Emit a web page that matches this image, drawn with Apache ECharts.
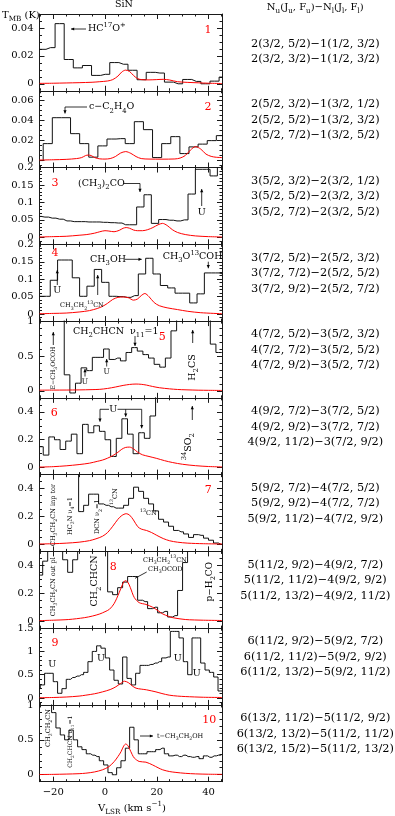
<!DOCTYPE html>
<html>
<head>
<meta charset="utf-8">
<script src="https://cdn.jsdelivr.net/npm/echarts@6.0.0/dist/echarts.min.js"></script>
<style>
html,body{margin:0;padding:0;background:#ffffff;}
#chart{width:395px;height:816px;}
</style>
</head>
<body>
<div id="chart"></div>
<script>
// ---------------- data ----------------
const velocityRange = [-25.3, 45.2];
const xTickLabels = [-20, 0, 20, 40];
const xMinorTicks = [-25, -20, -15, -10, -5, 0, 5, 10, 15, 20, 25, 30, 35, 40, 45];

// panel 1
const vObs1 = [-28.08, -24.56, -21.04, -17.52, -14.0, -10.48, -6.96, -3.44, 0.08, 3.6, 7.12, 10.64, 14.16, 17.68, 21.2, 24.72, 28.24, 31.76, 35.28, 38.8, 42.32, 45.84];
const tObs1 = [0.0247, 0.0247, 0.0259, 0.0431, 0.0174, 0.0114, 0.0131, 0.006, 0.0068, 0.0152, 0.014, 0.0097, 0.0029, 0.0082, 0.0077, 0.0012, 0.0, 0.0031, 0.0017, 0.0, 0.0019, 0.0048];
const vMod1 = [-25.3, -20, -15, -10, -5, -2, 1, 3, 5, 6.5, 8, 9.5, 11, 12.5, 14, 17, 20, 22.5, 25, 28, 32, 36, 40, 45.2];
const tMod1 = [0.0003, 0.0004, 0.0006, 0.0008, 0.0011, 0.0015, 0.002, 0.003, 0.0055, 0.0085, 0.0098, 0.0088, 0.006, 0.0038, 0.003, 0.0028, 0.003, 0.0032, 0.0027, 0.0015, 0.001, 0.0007, 0.0004, 0.0002];
// panel 2
const vObs2 = [-25.63, -22.11, -18.59, -15.07, -11.55, -8.03, -4.51, -0.99, 2.53, 6.05, 9.57, 13.09, 16.61, 20.13, 23.65, 27.17, 30.69, 34.21, 37.73, 41.25, 44.77, 48.29];
const tObs2 = [0.0, 0.017, 0.043, 0.043, 0.027, 0.017, 0.0034, 0.0147, 0.0216, 0.022, 0.017, 0.039, 0.031, 0.003, 0.017, 0.024, 0.007, 0.0137, 0.0165, 0.02, 0.025, 0.025];
const vMod2 = [-25.3, -20, -15, -11, -9, -7.5, -6.5, -5.3, -4, -2, 0, 2, 4, 6, 8, 10, 12, 14, 17, 22, 27, 29, 31, 33, 35, 37, 39, 41, 43, 45.2];
const tMod2 = [0.0005, 0.0008, 0.0012, 0.002, 0.003, 0.005, 0.0055, 0.005, 0.003, 0.0017, 0.0015, 0.002, 0.004, 0.0075, 0.009, 0.0072, 0.004, 0.002, 0.0015, 0.0014, 0.0016, 0.0025, 0.005, 0.0105, 0.014, 0.0115, 0.0065, 0.0042, 0.0033, 0.003];
// panel 3
const vObs3 = [-26.04, -23.21, -20.37, -17.54, -14.70, -11.87, -9.04, -6.20, -3.36, -0.53, 2.31, 5.14, 7.98, 10.81, 13.65, 16.48, 19.32, 22.15, 24.99, 27.82, 30.66, 33.49, 36.33, 39.16, 42.0, 44.83, 47.67];
const tObs3 = [0.060, 0.058, 0.055, 0.052, 0.047, 0.045, 0.045, 0.044, 0.044, 0.043, 0.042, 0.041, 0.036, 0.036, 0.087, 0.122, 0.040, 0.051, 0.049, 0.047, 0.050, 0.124, 0.195, 0.195, 0.176, 0.21, 0.21];
const vMod3 = [-25.3, -20, -15, -10, -7, -4, -2, 0, 1.5, 3.5, 5.5, 7, 8.2, 9.5, 11, 12.5, 14.5, 16.5, 18.5, 20.5, 22.2, 24, 26, 28, 31, 35, 40, 45.2];
const tMod3 = [0.001, 0.002, 0.003, 0.006, 0.008, 0.012, 0.016, 0.019, 0.018, 0.016, 0.02, 0.026, 0.028, 0.026, 0.021, 0.019, 0.019, 0.022, 0.028, 0.036, 0.04, 0.034, 0.022, 0.014, 0.008, 0.004, 0.002, 0.001];
// panel 4
const vObs4 = [-25.40, -22.57, -19.73, -16.90, -14.06, -11.23, -8.39, -5.56, -2.72, 0.12, 2.95, 5.79, 8.62, 11.46, 14.29, 17.13, 19.96, 22.80, 25.63, 28.47, 31.30, 34.14, 36.97, 39.81, 42.64, 45.48];
const tObs4 = [0.051, 0.051, 0.097, 0.155, 0.155, 0.104, 0.051, 0.08, 0.128, 0.091, 0.051, 0.05, 0.048, 0.053, 0.115, 0.16, 0.115, 0.082, 0.075, 0.06, 0.06, 0.032, 0.058, 0.118, 0.118, 0.115];
const vMod4 = [-25.3, -20, -15, -10, -6, -3, -1, 1, 3, 5, 7, 9, 11, 12.5, 14, 15.4, 17, 19, 21, 24, 28, 32, 37, 45.2];
const tMod4 = [0.001, 0.002, 0.003, 0.006, 0.01, 0.016, 0.022, 0.031, 0.042, 0.048, 0.049, 0.047, 0.04, 0.043, 0.053, 0.059, 0.05, 0.033, 0.024, 0.018, 0.013, 0.008, 0.004, 0.001];
// panel 5 (values above 1 are off-scale channels)
const vObs5 = [-25.5, -23.34, -21.17, -19.0, -16.83, -14.66, -12.49, -10.32, -8.15, -5.98, -3.81, -1.64, 0.54, 2.71, 4.88, 7.05, 9.22, 11.39, 13.56, 15.73, 17.9, 20.07, 22.24, 24.41, 26.58, 28.75, 30.92, 33.09, 35.26, 37.43, 39.6, 41.77, 43.94, 46.11];
const tObs5 = [1.3, 1.3, 1.3, 1.3, 1.3, 0.23, -0.03, 0.11, 0.33, 0.29, 0.48, 0.48, 0.60, 0.45, 0.47, 0.43, 0.55, 0.62, 0.57, 0.52, 0.47, 0.38, 0.34, 0.47, 0.86, 1.3, 1.3, 1.3, 1.3, 1.3, 1.3, 0.67, 0.55, 0.55];
const vMod5 = [-25.3, -20, -15, -10, -5, -2, 1, 4, 7, 9.5, 12, 14, 16, 18.4, 21, 24.9, 28, 31.3, 36, 40, 45.2];
const tMod5 = [0.01, 0.011, 0.012, 0.014, 0.018, 0.022, 0.035, 0.055, 0.078, 0.092, 0.098, 0.094, 0.083, 0.063, 0.045, 0.029, 0.02, 0.015, 0.01, 0.008, 0.006];
// panel 6
const vObs6 = [-27.11, -24.94, -22.77, -20.60, -18.43, -16.26, -14.09, -11.92, -9.75, -7.58, -5.41, -3.24, -1.07, 1.10, 3.27, 5.44, 7.61, 9.78, 11.95, 14.12, 16.29, 18.46, 20.63, 47.0];
const tObs6 = [0.15, 0.15, 0.09, 0.22, 0.20, 0.13, 0.19, 0.24, 0.10, 0.31, 0.25, 0.30, 0.26, 0.20, 0.08, 0.21, 0.35, 0.24, 0.10, 0.25, 0.21, 0.37, 0.6, 0.6];
const vMod6 = [-25.3, -20, -15, -10, -6, -3, -1, 1, 3, 5, 6.5, 8, 9.5, 11, 12.5, 14.5, 17, 20, 23, 26, 30, 35, 40, 45.2];
const tMod6 = [0.004, 0.007, 0.013, 0.022, 0.032, 0.045, 0.054, 0.068, 0.086, 0.11, 0.132, 0.145, 0.147, 0.135, 0.112, 0.092, 0.08, 0.066, 0.05, 0.037, 0.024, 0.014, 0.008, 0.005];
// panel 7
const vObs7 = [-26.6, -11.155, -9.225, -7.295, -5.365, -3.435, -1.505, 0.425, 2.355, 4.285, 6.215, 8.145, 10.075, 12.005, 13.935, 15.865, 17.795, 19.725, 21.655, 23.585, 25.515, 27.445, 29.375, 31.305, 33.235, 35.165, 37.095, 39.025, 40.955, 42.885, 44.815, 46.745];
const tObs7 = [0.6, 0.6, 0.235, 0.28, 0.36, 0.36, 0.29, 0.28, 0.27, 0.26, 0.26, 0.28, 0.33, 0.41, 0.38, 0.33, 0.29, 0.24, 0.18, 0.16, 0.13, 0.10, 0.09, 0.075, 0.05, 0.07, 0.065, 0.045, 0.03, 0.01, 0.0, 0.0];
const vMod7 = [-25.3, -20, -15, -10, -6, -3.5, -1, 1, 3, 5, 6.5, 8.2, 9.5, 11, 12.6, 14, 16, 18, 20, 22.5, 25, 28, 32, 38, 45.2];
const tMod7 = [0.003, 0.005, 0.009, 0.016, 0.027, 0.04, 0.058, 0.085, 0.13, 0.18, 0.207, 0.22, 0.21, 0.175, 0.128, 0.11, 0.1, 0.085, 0.065, 0.042, 0.026, 0.016, 0.009, 0.005, 0.003];
// panel 8
const vObs8 = [-26.965, -25.035, -23.105, -21.175, -19.245, -17.315, -15.385, -13.455, -11.525, -9.595, -7.665, -5.735, -3.805, -1.875, 0.055, 1.985, 3.915, 5.845, 7.775, 9.705, 11.635, 13.565, 15.495, 17.425, 19.355, 21.285, 23.215, 25.145, 27.075, 29.005, 30.935, 32.865, 46.375];
const tObs8 = [0.33, 0.33, 0.43, 0.6, 0.6, 0.6, 0.44, 0.35, 0.44, 0.6, 0.6, 0.6, 0.6, 0.6, 0.6, 0.21, 0.19, 0.24, 0.28, 0.32, 0.32, 0.15, 0.14, 0.09, 0.10, 0.06, 0.07, 0.03, 0.04, 0.22, 0.42, 0.6, 0.6];
const vMod8 = [-25.3, -20, -14, -8, -4.8, -2, 0, 1.7, 3.5, 5.5, 6.8, 7.8, 8.8, 9.8, 11.3, 13.2, 15.8, 18.4, 20.5, 22.3, 24.5, 26.2, 31, 38, 45.2];
const tMod8 = [0.004, 0.007, 0.012, 0.025, 0.037, 0.052, 0.068, 0.085, 0.125, 0.205, 0.265, 0.29, 0.28, 0.24, 0.17, 0.133, 0.12, 0.1, 0.075, 0.052, 0.035, 0.025, 0.012, 0.007, 0.005];
// panel 9
const vObs9 = [-25.85, -24.175, -22.5, -20.825, -19.15, -17.475, -15.8, -14.125, -12.45, -10.775, -9.1, -7.425, -5.75, -4.075, -2.4, -0.725, 0.95, 2.625, 4.3, 5.975, 7.65, 9.325, 11.0, 12.675, 14.35, 16.025, 17.7, 19.375, 21.05, 22.725, 24.4, 26.075, 27.75, 29.425, 31.1, 32.775, 34.45, 36.125, 37.8, 39.475, 41.15, 42.825, 44.5, 46.175];
const tObs9 = [0.2, 0.28, 0.53, 0.53, 0.35, 0.1, 0.2, 0.4, 0.44, 0.47, 0.5, 0.55, 0.78, 1.0, 1.12, 1.07, 0.86, 0.6, 0.38, 0.3, 0.88, 0.42, 0.28, 0.53, 0.7, 0.7, 0.72, 0.75, 0.78, 0.86, 0.88, 1.43, 1.43, 1.29, 0.78, 0.5, 1.29, 1.29, 0.75, 0.6, 0.55, 0.45, 0.15, 0.15];
const vMod9 = [-25.3, -20, -15, -10, -7.4, -4, -1, 2, 4.2, 6, 7.5, 9, 10.5, 12, 14, 16, 19.7, 22, 24.8, 28, 31, 38, 45.2];
const tMod9 = [0.005, 0.01, 0.02, 0.04, 0.06, 0.09, 0.13, 0.18, 0.24, 0.31, 0.36, 0.33, 0.26, 0.21, 0.19, 0.175, 0.13, 0.095, 0.06, 0.04, 0.03, 0.015, 0.01];
// panel 10
const vObs10 = [-26.5, -24.82, -23.14, -21.47, -19.79, -18.12, -16.44, -14.77, -13.09, -11.42, -9.74, -8.07, -6.39, -4.72, -3.04, -1.37, 0.31, 1.98, 3.66, 5.33, 7.01, 8.68, 10.36, 12.03, 13.71, 15.38, 17.06, 18.73, 20.41, 22.08, 23.76, 25.43, 27.11, 28.78, 30.46, 32.13, 33.81, 35.48, 37.16, 38.83, 40.51, 42.18, 43.86, 45.53];
const tObs10 = [1.3, 1.3, 1.3, 1.3, 0.89, 0.67, 0.57, 0.5, 0.64, 0.5, 0.4, 0.36, 0.3, 0.28, 0.26, 0.2, 0.14, 0.03, 0.0, 0.1, 0.2, 0.38, 0.68, 0.5, 0.3, 0.3, 0.33, 0.33, 0.36, 0.38, 0.3, 0.27, 0.28, 0.26, 0.28, 0.26, 0.25, 0.26, 0.23, 0.27, 0.25, 0.27, 0.28, 0.3];
const vMod10 = [-25.3, -20, -15, -10, -7.4, -4, -1, 1.5, 3.6, 5, 6.2, 7.2, 8, 8.8, 9.5, 10.5, 11.3, 13.2, 15.8, 18.4, 20.5, 22.3, 25, 27.4, 31, 35, 40, 45.2];
const tMod10 = [0.003, 0.005, 0.009, 0.015, 0.022, 0.04, 0.07, 0.115, 0.19, 0.26, 0.33, 0.41, 0.44, 0.42, 0.37, 0.29, 0.24, 0.19, 0.18, 0.14, 0.1, 0.07, 0.045, 0.033, 0.02, 0.012, 0.007, 0.005];

// y ranges and tick labels
const yRange1 = [-0.005, 0.05],  yTicks1 = [0, 0.02, 0.04],            yMinorStep1 = 0.005;
const yRange2 = [-0.007, 0.07],  yTicks2 = [0, 0.02, 0.04, 0.06],      yMinorStep2 = 0.005;
const yRange3 = [-0.02, 0.2],    yTicks3 = [0, 0.05, 0.1, 0.15, 0.2],  yMinorStep3 = 0.01;
const yRange4 = [-0.02, 0.2],    yTicks4 = [0, 0.05, 0.1, 0.15, 0.2],  yMinorStep4 = 0.01;
const yRange5 = [-0.1, 1],       yTicks5 = [0, 0.5, 1],                yMinorStep5 = 0.1;
const yRange6 = [-0.05, 0.5],    yTicks6 = [0, 0.2, 0.4],              yMinorStep6 = 0.05;
const yRange7 = [-0.05, 0.5],    yTicks7 = [0, 0.2, 0.4],              yMinorStep7 = 0.05;
const yRange8 = [-0.05, 0.5],    yTicks8 = [0, 0.2, 0.4],              yMinorStep8 = 0.05;
const yRange9 = [-0.15, 1.5],    yTicks9 = [0, 0.5, 1, 1.5],           yMinorStep9 = 0.1;
const yRange10 = [-0.1, 1],      yTicks10 = [0, 0.5, 1],               yMinorStep10 = 0.1;

// transition labels (right column)
const transitions = [
  ['2(3/2, 5/2)\u22121(1/2, 3/2)', '2(3/2, 3/2)\u22121(1/2, 3/2)'],
  ['2(5/2, 3/2)\u22121(3/2, 1/2)', '2(5/2, 5/2)\u22121(3/2, 3/2)', '2(5/2, 7/2)\u22121(3/2, 5/2)'],
  ['3(5/2, 3/2)\u22122(3/2, 1/2)', '3(5/2, 5/2)\u22122(3/2, 3/2)', '3(5/2, 7/2)\u22122(3/2, 5/2)'],
  ['3(7/2, 5/2)\u22122(5/2, 3/2)', '3(7/2, 7/2)\u22122(5/2, 5/2)', '3(7/2, 9/2)\u22122(5/2, 7/2)'],
  ['4(7/2, 5/2)\u22123(5/2, 3/2)', '4(7/2, 7/2)\u22123(5/2, 5/2)', '4(7/2, 9/2)\u22123(5/2, 7/2)'],
  ['4(9/2, 7/2)\u22123(7/2, 5/2)', '4(9/2, 9/2)\u22123(7/2, 7/2)', '4(9/2, 11/2)\u22123(7/2, 9/2)'],
  ['5(9/2, 7/2)\u22124(7/2, 5/2)', '5(9/2, 9/2)\u22124(7/2, 7/2)', '5(9/2, 11/2)\u22124(7/2, 9/2)'],
  ['5(11/2, 9/2)\u22124(9/2, 7/2)', '5(11/2, 11/2)\u22124(9/2, 9/2)', '5(11/2, 13/2)\u22124(9/2, 11/2)'],
  ['6(11/2, 9/2)\u22125(9/2, 7/2)', '6(11/2, 11/2)\u22125(9/2, 9/2)', '6(11/2, 13/2)\u22125(9/2, 11/2)'],
  ['6(13/2, 11/2)\u22125(11/2, 9/2)', '6(13/2, 13/2)\u22125(11/2, 11/2)', '6(13/2, 15/2)\u22125(11/2, 13/2)']
];

// ---------------- layout ----------------
const panels = [
  [vObs1, tObs1, vMod1, tMod1, yRange1, yTicks1, yMinorStep1],
  [vObs2, tObs2, vMod2, tMod2, yRange2, yTicks2, yMinorStep2],
  [vObs3, tObs3, vMod3, tMod3, yRange3, yTicks3, yMinorStep3],
  [vObs4, tObs4, vMod4, tMod4, yRange4, yTicks4, yMinorStep4],
  [vObs5, tObs5, vMod5, tMod5, yRange5, yTicks5, yMinorStep5],
  [vObs6, tObs6, vMod6, tMod6, yRange6, yTicks6, yMinorStep6],
  [vObs7, tObs7, vMod7, tMod7, yRange7, yTicks7, yMinorStep7],
  [vObs8, tObs8, vMod8, tMod8, yRange8, yTicks8, yMinorStep8],
  [vObs9, tObs9, vMod9, tMod9, yRange9, yTicks9, yMinorStep9],
  [vObs10, tObs10, vMod10, tMod10, yRange10, yTicks10, yMinorStep10]
];
const F = 'DejaVu Serif';
const TOP0 = 14, PH = 76.77, GL = 39.5, GW = 182.5;
const FRAME = '#1a1a1a';

function minorList(r, step) {
  const out = [];
  const k0 = Math.ceil(r[0] / step - 1e-9), k1 = Math.floor(r[1] / step + 1e-9);
  for (let k = k0; k <= k1; k++) out.push(+(k * step).toFixed(6));
  return out;
}
const fmtX = v => (v < 0 ? '\u2212' + Math.abs(v) : String(v));

const grid = [], xAxis = [], yAxis = [], series = [];
panels.forEach((p, i) => {
  const [vo, to, vm, tm, yr, yt, ys] = p;
  grid.push({left: GL, top: TOP0 + i * PH, width: GW, height: PH, containLabel: false, outerBoundsMode: 'none'});
  const tickStyle = {color: FRAME, width: 1};
  const lineOn = {show: true, onZero: false, lineStyle: {color: FRAME, width: 1}};
  const lineOff = {show: false, onZero: false};
  const xb = {gridIndex: i, type: 'value', min: velocityRange[0], max: velocityRange[1], splitLine: {show: false}, axisPointer: {show: false}};
  ['bottom', 'top'].forEach(pos => {
    xAxis.push(Object.assign({}, xb, {position: pos, axisLine: lineOn,
      axisTick: {show: true, inside: true, length: 2.5, customValues: xMinorTicks, lineStyle: tickStyle},
      axisLabel: {show: false}}));
    xAxis.push(Object.assign({}, xb, {position: pos, axisLine: lineOff,
      axisTick: {show: true, inside: true, length: 5, customValues: xTickLabels, lineStyle: tickStyle},
      axisLabel: (i === 9 && pos === 'bottom') ? {show: true, customValues: xTickLabels, margin: 6, fontFamily: F, fontSize: 10, color: '#000', formatter: fmtX} : {show: false}}));
  });
  const yb = {gridIndex: i, type: 'value', min: yr[0], max: yr[1], splitLine: {show: false}, axisPointer: {show: false}};
  const ymin = minorList(yr, ys);
  ['left', 'right'].forEach(pos => {
    yAxis.push(Object.assign({}, yb, {position: pos, axisLine: lineOn,
      axisTick: {show: true, inside: true, length: 2.5, customValues: ymin, lineStyle: tickStyle},
      axisLabel: {show: false}}));
    yAxis.push(Object.assign({}, yb, {position: pos, axisLine: lineOff,
      axisTick: {show: true, inside: true, length: 5, customValues: yt, lineStyle: tickStyle},
      axisLabel: pos === 'left' ? {show: true, customValues: yt, margin: 6, fontFamily: F, fontSize: 10, color: '#000'} : {show: false}}));
  });
  series.push({type: 'line', xAxisIndex: 4 * i + 1, yAxisIndex: 4 * i + 1, data: vo.map((v, k) => [v, to[k]]),
    step: 'middle', symbol: 'none', showSymbol: false, clip: true, silent: true, animation: false,
    lineStyle: {color: '#111', width: 1}, z: 2});
  series.push({type: 'line', xAxisIndex: 4 * i + 1, yAxisIndex: 4 * i + 1, data: vm.map((v, k) => [v, tm[k]]),
    smooth: 0.3, symbol: 'none', showSymbol: false, clip: true, silent: true, animation: false,
    lineStyle: {color: '#ff0000', width: 1}, z: 3});
});

// ---------------- annotations ----------------
function richFor(fs, color) {
  const s = +(fs * 0.72).toFixed(2);
  return {
    b: {fontFamily: F, fontSize: s, height: s * 0.75, verticalAlign: 'bottom', fill: color},
    p: {fontFamily: F, fontSize: s, height: s * 0.75, verticalAlign: 'top', fill: color}
  };
}
function T(x, y, text, o) {
  o = o || {};
  const fs = o.size || 9.5, color = o.color || '#000';
  return {type: 'text', x: x, y: y, rotation: (o.rot || 0) * Math.PI / 180, z: 100, silent: true,
    style: {text: text, fontFamily: F, fontSize: fs, fill: color, align: o.align || 'left',
      verticalAlign: 'middle', lineHeight: Math.round(fs * 1.35), rich: richFor(fs, color)}};
}
function L(pts) {
  return {type: 'polyline', z: 100, silent: true, shape: {points: pts}, style: {stroke: '#000', lineWidth: 0.8, fill: null}};
}
function A(pts) {
  const [x1, y1] = pts[pts.length - 2], [x2, y2] = pts[pts.length - 1];
  const dx = x2 - x1, dy = y2 - y1, len = Math.hypot(dx, dy), ux = dx / len, uy = dy / len;
  const hl = 3.2, hw = 1.6, bx = x2 - ux * hl, by = y2 - uy * hl;
  return [L(pts), {type: 'polygon', z: 100, silent: true,
    shape: {points: [[x2, y2], [bx - uy * hw, by + ux * hw], [bx + uy * hw, by - ux * hw]]}, style: {fill: '#000'}}];
}
const RED = '#ff0000';
const G = [];
const add = (...els) => els.forEach(e => Array.isArray(e) ? G.push(...e) : G.push(e));

// headers
add(T(124, 4.5, 'SiN', {align: 'center', size: 9.5}));
add(T(2, 15, 'T{b|MB} (K)', {size: 10}));
add(T(315.3, 7, 'N{b|u}(J{b|u}, F{b|u})\u2212N{b|l}(J{b|l}, F{b|l})', {align: 'center', size: 10}));
add(T(132, 808, 'V{b|LSR} (km s{p|\u22121})', {align: 'center', size: 10}));

// transitions column
transitions.forEach((lines, i) => {
  const c = TOP0 + (i + 0.5) * PH;
  const y0 = lines.length === 2 ? c - 8.5 : c - 9.5 - 15.5;
  lines.forEach((s, k) => add(T(315.3, y0 + k * 15.5, s, {align: 'center', size: 11.3})));
});

// panel numbers
const numPos = [[208, 30], [208, 107], [55, 183.5], [55, 253], [162.3, 336.7], [54.3, 413.3], [208.3, 490], [113.3, 567.3], [55, 643.3], [209.3, 720]];
numPos.forEach((q, i) => add(T(q[0], q[1], String(i + 1), {color: RED, size: 11, align: 'center'})));

// panel 1
add(A([[86, 29], [71, 29]]), T(88, 29, 'HC{p|17}O{p|+}'));
// panel 2
add(T(89, 107, 'c\u2212C{b|2}H{b|4}O'), A([[87, 107], [65, 107], [65, 113.5]]));
// panel 3
add(T(78, 183.5, '(CH{b|3}){b|2}CO'), A([[124, 183.5], [140, 183.5], [140, 192]]));
add(T(201.7, 213, 'U', {align: 'center'}), A([[201.7, 206], [201.7, 189]]));
// panel 4
add(T(57.3, 290.5, 'U', {align: 'center'}), A([[57.3, 285], [57.3, 270]]), A([[97.7, 295], [97.7, 275]]));
add(T(60, 305.7, 'CH{b|3}CH{b|2}{p|13}CN', {size: 6.5}));
add(T(90, 259.3, 'CH{b|3}OH'), A([[125, 259.3], [141.7, 259.3]]));
add(T(162.7, 256.7, 'CH{b|3}O{p|13}COH'), A([[208.3, 261.7], [208.3, 268.3]]));
// panel 5
add(T(73, 331.7, 'CH{b|2}CHCN  \u03bd{b|11}=1'), A([[135, 336], [135, 346]]));
add(A([[192.7, 343], [192.7, 330]]), T(192.7, 367.5, 'H{b|2}CS', {rot: 90, align: 'center'}));
add(T(53.3, 368, 'E\u2212CH{b|3}OCOH', {rot: 90, align: 'center', size: 6.2}), A([[53.3, 345], [53.3, 332]]));
add(T(85, 381.7, 'U', {size: 7.5, align: 'center'}), A([[85, 376.5], [85, 369]]));
add(T(106.7, 372, 'U', {size: 7.5, align: 'center'}), A([[106.7, 366.5], [106.7, 359]]));
// panel 6
add(T(113.3, 409.3, 'U', {align: 'center'}));
add(A([[109, 409.3], [100, 409.3], [100, 421.7]]), A([[117.5, 409.3], [141.7, 409.3], [141.7, 428.3]]), A([[125.7, 409.3], [125.7, 416.7]]));
add(A([[192.3, 420], [192.3, 406]]), T(188.3, 446.7, '{p|34}SO{b|2}', {rot: 90, align: 'center'}));
// panel 7
add(T(53.3, 515, 'CH{b|3}CH{b|2}CN inp tor', {rot: 90, align: 'center', size: 6.5}));
add(T(70, 516, 'HC{b|3}N \u03bd{b|4}=1', {rot: 90, align: 'center', size: 6.5}));
add(T(97.7, 516.7, 'DCN \u03bd{b|2}=1', {rot: 90, align: 'center', size: 6.5}));
add(T(115, 496.7, '{p|13}CN', {rot: 90, align: 'center', size: 6.5}));
add(T(140, 513.3, '{p|13}CN', {size: 6.5}));
// panel 8
add(T(53.3, 586.7, 'CH{b|3}CH{b|2}CN out pl', {rot: 90, align: 'center', size: 6.5}));
add(T(95, 581, 'CH{b|2}CHCN', {rot: 90, align: 'center', size: 9.5}));
add(T(143, 560, 'CH{b|3}CH{b|2}{p|13}CN', {size: 6.5}), T(148, 569.3, 'CH{b|3}OCOD', {size: 6.5}));
add(L([[146.7, 572], [135, 578.3]]));
add(T(210, 581.7, 'p\u2212H{b|2}CO', {rot: 90, align: 'center', size: 9}));
// panel 9
[[52.3, 664.3], [101, 658.3], [177.7, 658.3], [196.7, 674]].forEach(q => add(T(q[0], q[1], 'U', {align: 'center'})));
// panel 10
add(T(48.3, 728, 'CH{b|3}CH{b|2}CN', {rot: 90, align: 'center', size: 6.5}));
add(T(70.7, 741.7, 'CH{b|2}CHCN \u03bd{b|11}=1', {rot: 90, align: 'center', size: 6}));
add(A([[140, 736], [153, 736]]), T(157, 736, 't\u2212CH{b|3}CH{b|2}OH', {size: 6.5}));

const chart = echarts.init(document.getElementById('chart'), null, {renderer: 'canvas', devicePixelRatio: 1});
chart.setOption({
  backgroundColor: '#ffffff',
  animation: false,
  grid: grid, xAxis: xAxis, yAxis: yAxis, series: series,
  graphic: {elements: G}
});
</script>
</body>
</html>
